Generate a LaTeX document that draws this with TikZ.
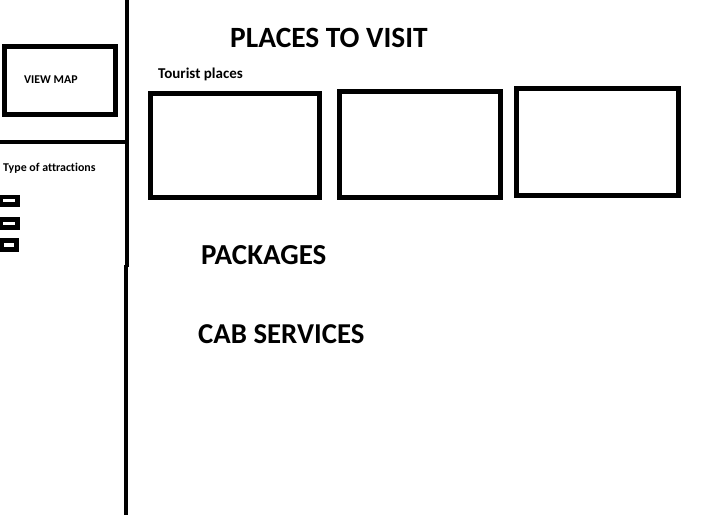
\documentclass[tikz,border=0pt]{standalone}
\usepackage{fontspec}
\setmainfont[Ligatures=NoCommon]{Carlito}
\begin{document}
\begin{tikzpicture}[x=1pt,y=-1pt,
  label/.style={anchor=base west,inner sep=0pt,font=\bfseries},
  rule/.style={line width=4pt}]
\useasboundingbox[fill=white] (0,0) rectangle (724,515);
% left panel rules
\draw[rule] (127,0) -- (127,267);
\draw[rule] (126,265) -- (126,515);
\draw[rule] (0,141.5) -- (127,141.5);
% view map box
\draw[line width=5pt] (4.5,46.5) rectangle (115.5,114.5);
\node[label,font=\bfseries\fontsize{11.9}{11.9}\selectfont] (vm) at (24,83) {VIEW MAP};
\node[label,font=\bfseries\fontsize{11.9}{11.9}\selectfont] (ta) at (3,171) {Type of attractions};
% small checkboxes
\fill[black] (0,195) rectangle (20,207);
\fill[white] (3,199) rectangle (15,202);
\fill[black] (0,217) rectangle (20,230);
\fill[white] (3,222) rectangle (15,225);
\fill[black] (0,238) rectangle (19,252);
\fill[white] (4,243) rectangle (14,247);
% titles
\node[label,font=\bfseries\fontsize{29.4}{29.4}\selectfont] (title) at (230,47) {PLACES TO VISIT};
\node[label,font=\bfseries\fontsize{15}{15}\selectfont] (tp) at (158,78) {Tourist places};
\node[label,font=\bfseries\fontsize{29}{29}\selectfont] (pk) at (201,264) {PACKAGES};
\node[label,font=\bfseries\fontsize{28.8}{28.8}\selectfont] (cab) at (198,343) {CAB SERVICES};
% tourist boxes
\draw[line width=5pt] (150.5,93.5) rectangle (319.5,197.5);
\draw[line width=5pt] (339.5,91.5) rectangle (500.5,197.5);
\draw[line width=5pt] (516.5,88.5) rectangle (678.5,195.5);
\end{tikzpicture}
\end{document}
